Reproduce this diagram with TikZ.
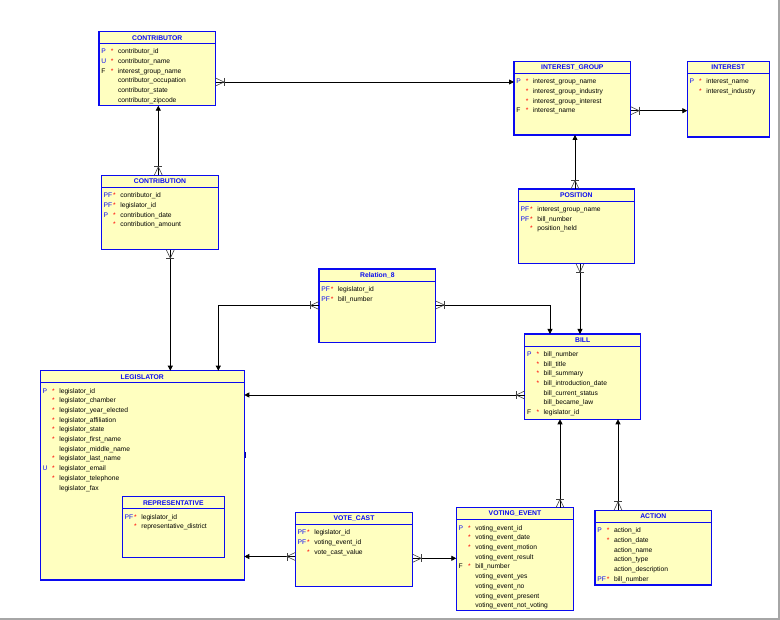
\documentclass[tikz,border=0pt]{standalone}
\usepackage{fontspec}
\setmainfont{Liberation Sans}
\usetikzlibrary{arrows.meta}
\definecolor{entblue}{RGB}{10,10,240}
\definecolor{entfill}{RGB}{255,255,192}
\tikzset{
  entity/.style={draw=entblue, fill=entfill, line width=1.1pt, inner sep=0pt, outer sep=0pt, anchor=north west},
  hdr/.style={draw=entblue, line width=1.1pt},
  etitle/.style={font=\fontsize{6.8}{8}\selectfont\bfseries, text=entblue, inner sep=0pt},
  keyf/.style={font=\fontsize{6.7}{8}\selectfont, text=entblue, inner sep=0pt, anchor=base west},
  starf/.style={font=\fontsize{6.7}{8}\selectfont, text=red, inner sep=0pt, anchor=base west},
  namef/.style={font=\fontsize{6.7}{8}\selectfont, text=black, inner sep=0pt, anchor=base west},
  conn/.style={draw=black, line width=0.8pt},
  arr/.style={-{Triangle[length=5pt,width=5pt]}},
  crowl/.style={draw=black!75, line width=0.6pt},
  crowfoot/.pic={\draw[crowl] (0,-4) -- (8.5,0) -- (0,4); \draw[crowl] (8.5,-4) -- (8.5,4);}
}
\newcommand\ehead[2]{%
  \draw[hdr] ([yshift=-12.2pt]#1.north west) -- ([yshift=-12.2pt]#1.north east);
  \node[etitle] (#1-title) at ([yshift=-6.3pt]#1.north) {#2};
}
\newcommand\erow[5]{%
  \pgfmathsetmacro\rowy{22.4+9.7*(#2-1)}%
  \node[keyf] (#1-k#2) at ([xshift=2.2pt,yshift=-\rowy pt]#1.north west) {#3};
  \node[starf] (#1-s#2) at ([xshift=11.6pt,yshift=-\rowy pt]#1.north west) {#4};
  \node[namef] (#1-n#2) at ([xshift=18.8pt,yshift=-\rowy pt]#1.north west) {#5};
}
\newcommand\Fk{\textcolor{black}{F}}
\begin{document}
\begin{tikzpicture}[x=1pt,y=-1pt]
\useasboundingbox (0,0) rectangle (780,620);
\fill[white] (0,0) rectangle (780,620);
\fill[black!35] (0,618) rectangle (780,620);
\fill[black!35] (778.3,0) rectangle (780,620);

% ---------- entities ----------
\node[entity, minimum width=116.5pt, minimum height=74.2pt] (contributor) at (99,31.5) {};
\ehead{contributor}{CONTRIBUTOR}
\erow{contributor}{1}{P}{*}{contributor\_id}
\erow{contributor}{2}{U}{*}{contributor\_name}
\erow{contributor}{3}{\Fk}{*}{interest\_group\_name}
\erow{contributor}{4}{}{}{contributor\_occupation}
\erow{contributor}{5}{}{}{contributor\_state}
\erow{contributor}{6}{}{}{contributor\_zipcode}

\node[entity, minimum width=116.7pt, minimum height=73.7pt] (interestgroup) at (514,61.3) {};
\ehead{interestgroup}{INTEREST\_GROUP}
\erow{interestgroup}{1}{P}{*}{interest\_group\_name}
\erow{interestgroup}{2}{}{*}{interest\_group\_industry}
\erow{interestgroup}{3}{}{*}{interest\_group\_interest}
\erow{interestgroup}{4}{\Fk}{*}{interest\_name}

\node[entity, minimum width=82pt, minimum height=75.7pt] (interest) at (687.3,61.3) {};
\ehead{interest}{INTEREST}
\erow{interest}{1}{P}{*}{interest\_name}
\erow{interest}{2}{}{*}{interest\_industry}

\node[entity, minimum width=117.4pt, minimum height=74.4pt] (contribution) at (101.3,175.3) {};
\ehead{contribution}{CONTRIBUTION}
\erow{contribution}{1}{PF}{*}{contributor\_id}
\erow{contribution}{2}{PF}{*}{legislator\_id}
\erow{contribution}{3}{P}{*}{contribution\_date}
\erow{contribution}{4}{}{*}{contribution\_amount}

\node[entity, minimum width=116pt, minimum height=74.7pt] (position) at (518.3,189) {};
\ehead{position}{POSITION}
\erow{position}{1}{PF}{*}{interest\_group\_name}
\erow{position}{2}{PF}{*}{bill\_number}
\erow{position}{3}{}{*}{position\_held}

\node[entity, minimum width=116.7pt, minimum height=73.3pt] (relation8) at (319,269) {};
\ehead{relation8}{Relation\_8}
\erow{relation8}{1}{PF}{*}{legislator\_id}
\erow{relation8}{2}{PF}{*}{bill\_number}

\node[entity, minimum width=116pt, minimum height=85.3pt] (bill) at (524.7,334) {};
\ehead{bill}{BILL}
\erow{bill}{1}{P}{*}{bill\_number}
\erow{bill}{2}{}{*}{bill\_title}
\erow{bill}{3}{}{*}{bill\_summary}
\erow{bill}{4}{}{*}{bill\_introduction\_date}
\erow{bill}{5}{}{}{bill\_current\_status}
\erow{bill}{6}{}{}{bill\_became\_law}
\erow{bill}{7}{\Fk}{*}{legislator\_id}

\node[entity, minimum width=204pt, minimum height=209.3pt] (legislator) at (40.3,370.7) {};
\ehead{legislator}{LEGISLATOR}
\erow{legislator}{1}{P}{*}{legislator\_id}
\erow{legislator}{2}{}{*}{legislator\_chamber}
\erow{legislator}{3}{}{*}{legislator\_year\_elected}
\erow{legislator}{4}{}{*}{legislator\_affiliation}
\erow{legislator}{5}{}{*}{legislator\_state}
\erow{legislator}{6}{}{*}{legislator\_first\_name}
\erow{legislator}{7}{}{}{legislator\_middle\_name}
\erow{legislator}{8}{}{*}{legislator\_last\_name}
\erow{legislator}{9}{U}{*}{legislator\_email}
\erow{legislator}{10}{}{*}{legislator\_telephone}
\erow{legislator}{11}{}{}{legislator\_fax}
\draw[entblue!60!black, line width=1.4pt] (245.6,452) -- (245.6,458);

\node[entity, minimum width=102pt, minimum height=60.6pt] (representative) at (122.3,496.7) {};
\ehead{representative}{REPRESENTATIVE}
\erow{representative}{1}{PF}{*}{legislator\_id}
\erow{representative}{2}{}{*}{representative\_district}

\node[entity, minimum width=117.4pt, minimum height=74pt] (votecast) at (295.3,512.3) {};
\ehead{votecast}{VOTE\_CAST}
\erow{votecast}{1}{PF}{*}{legislator\_id}
\erow{votecast}{2}{PF}{*}{voting\_event\_id}
\erow{votecast}{3}{}{*}{vote\_cast\_value}

\node[entity, minimum width=117.4pt, minimum height=102.6pt] (votingevent) at (456.3,507.7) {};
\ehead{votingevent}{VOTING\_EVENT}
\erow{votingevent}{1}{P}{*}{voting\_event\_id}
\erow{votingevent}{2}{}{*}{voting\_event\_date}
\erow{votingevent}{3}{}{*}{voting\_event\_motion}
\erow{votingevent}{4}{}{}{voting\_event\_result}
\erow{votingevent}{5}{\Fk}{*}{bill\_number}
\erow{votingevent}{6}{}{}{voting\_event\_yes}
\erow{votingevent}{7}{}{}{voting\_event\_no}
\erow{votingevent}{8}{}{}{voting\_event\_present}
\erow{votingevent}{9}{}{}{voting\_event\_not\_voting}

\node[entity, minimum width=116.7pt, minimum height=74.7pt] (action) at (595,510.3) {};
\ehead{action}{ACTION}
\erow{action}{1}{P}{*}{action\_id}
\erow{action}{2}{}{*}{action\_date}
\erow{action}{3}{}{}{action\_name}
\erow{action}{4}{}{}{action\_type}
\erow{action}{5}{}{}{action\_description}
\erow{action}{6}{PF}{*}{bill\_number}

% ---------- connectors ----------
\draw[conn,arr] (contributor.east |- 0,82) -- (interestgroup.west |- 0,82);
\pic[rotate=0] at (contributor.east |- 0,82) {crowfoot};

\draw[conn,arr] (interestgroup.east |- 0,110.7) -- (interest.west |- 0,110.7);
\pic[rotate=0] at (interestgroup.east |- 0,110.7) {crowfoot};

\draw[conn,arr] (contribution.north -| 158.3,0) -- (contributor.south -| 158.3,0);
\pic[rotate=90] at (contribution.north -| 158.3,0) {crowfoot};

\draw[conn,arr] (contribution.south -| 170.3,0) -- (legislator.north -| 170.3,0);
\pic[rotate=-90] at (contribution.south -| 170.3,0) {crowfoot};

\draw[conn,arr] (position.north -| 575,0) -- (interestgroup.south -| 575,0);
\pic[rotate=90] at (position.north -| 575,0) {crowfoot};

\draw[conn,arr] (position.south -| 580,0) -- (bill.north -| 580,0);
\pic[rotate=-90] at (position.south -| 580,0) {crowfoot};

\draw[conn,arr] (relation8.west |- 0,305.5) -| (legislator.north -| 218.3,0);
\pic[rotate=180] at (relation8.west |- 0,305.5) {crowfoot};

\draw[conn,arr] (relation8.east |- 0,305) -| (bill.north -| 550,0);
\pic[rotate=0] at (relation8.east |- 0,305) {crowfoot};

\draw[conn,arr] (bill.west |- 0,395) -- (legislator.east |- 0,395);
\pic[rotate=180] at (bill.west |- 0,395) {crowfoot};

\draw[conn,arr] (votingevent.north -| 560,0) -- (bill.south -| 560,0);
\pic[rotate=90] at (votingevent.north -| 560,0) {crowfoot};

\draw[conn,arr] (action.north -| 618,0) -- (bill.south -| 618,0);
\pic[rotate=90] at (action.north -| 618,0) {crowfoot};

\draw[conn,arr] (votecast.west |- 0,556.5) -- (legislator.east |- 0,556.5);
\pic[rotate=180] at (votecast.west |- 0,556.5) {crowfoot};

\draw[conn,arr] (votecast.east |- 0,558.3) -- (votingevent.west |- 0,558.3);
\pic[rotate=0] at (votecast.east |- 0,558.3) {crowfoot};
\end{tikzpicture}
\end{document}
